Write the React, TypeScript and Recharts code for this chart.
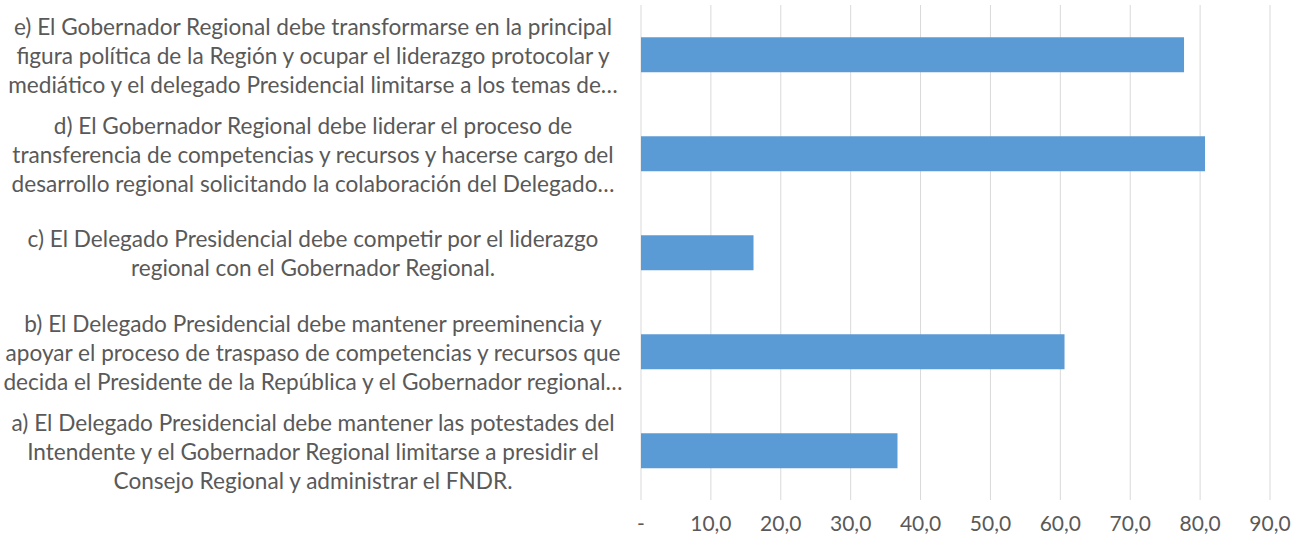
import React from "react";
import { BarChart, Bar, XAxis, YAxis, CartesianGrid } from "recharts";

const categories: string[] = [
  "e) El Gobernador Regional debe transformarse en la principal\nfigura política de la Región y ocupar el liderazgo protocolar y\nmediático y el delegado Presidencial limitarse a los temas de…",
  "d) El Gobernador Regional debe liderar el proceso de\ntransferencia de competencias y recursos y hacerse cargo del\ndesarrollo regional solicitando la colaboración del Delegado…",
  "c) El Delegado Presidencial debe competir por el liderazgo\nregional con el Gobernador Regional.",
  "b) El Delegado Presidencial debe mantener preeminencia y\napoyar el proceso de traspaso de competencias y recursos que\ndecida el Presidente de la República y el Gobernador regional…",
  "a) El Delegado Presidencial debe mantener las potestades del\nIntendente y el Gobernador Regional limitarse a presidir el\nConsejo Regional y administrar el FNDR.",
];

const values: number[] = [77.7, 80.7, 16.1, 60.6, 36.7];

const xTicks: number[] = [0, 10, 20, 30, 40, 50, 60, 70, 80, 90];

const data = categories.map((c, i) => ({ name: c, value: values[i] }));

const FONT = "Lato, 'Open Sans', sans-serif";
const TEXT_COLOR = "#595959";

const fmt = (v: number) => (v === 0 ? "-" : v.toFixed(1).replace(".", ","));

const YTick = (props: any) => {
  const { x, y, payload } = props;
  const lines: string[] = String(payload.value).split("\n");
  const lh = 29;
  const startDy = -((lines.length - 1) * lh) / 2;
  const cx = x - 320;
  return (
    <text
      x={cx}
      y={y}
      textAnchor="middle"
      dominantBaseline="central"
      fill={TEXT_COLOR}
      fontSize={22.6}
      fontFamily={FONT}
    >
      {lines.map((l, i) => (
        <tspan key={i} x={cx} dy={i === 0 ? startDy : lh}>
          {l}
        </tspan>
      ))}
    </text>
  );
};

export default function App() {
  return (
    <div style={{ position: "absolute", left: 0, top: 0, background: "#fff" }}>
      <BarChart
        width={1300}
        height={544}
        data={data}
        layout="vertical"
        margin={{ top: 5, right: 30, bottom: 0, left: 0 }}
        barCategoryGap="32.5%"
      >
        <CartesianGrid horizontal={false} vertical={true} stroke="#d9d9d9" strokeWidth={1} />
        <XAxis
          type="number"
          domain={[0, 90]}
          ticks={xTicks}
          tickFormatter={fmt}
          axisLine={false}
          tickLine={false}
          tickMargin={10}
          height={44}
          tick={{ fill: TEXT_COLOR, fontSize: 21, fontFamily: FONT }}
          interval={0}
        />
        <YAxis
          type="category"
          dataKey="name"
          width={641}
          axisLine={false}
          tickLine={false}
          tick={<YTick />}
          interval={0}
        />
        <Bar dataKey="value" fill="#5b9bd5" isAnimationActive={false} />
      </BarChart>
    </div>
  );
}
